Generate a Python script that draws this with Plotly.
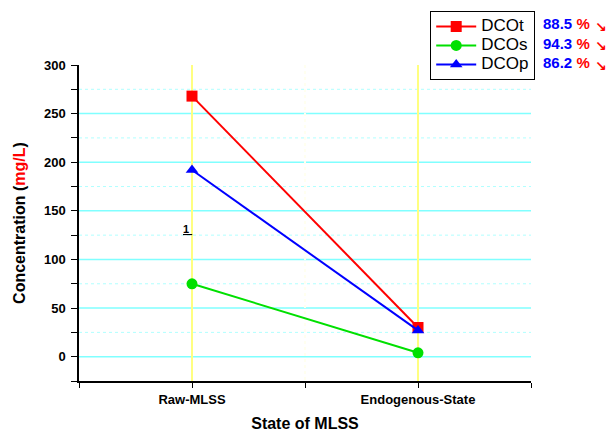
import plotly.graph_objects as go

categories = ["Raw-MLSS", "Endogenous-State"]
x_pos = [1, 2]
dcot = [268, 30]
dcos = [75, 4]
dcop = [192, 27]
removal = ["88.5", "94.3", "86.2"]
major_grid = [0, 50, 100, 150, 200, 250]
minor_grid = [25, 75, 125, 175, 225, 275]

colors = ["#ff0000", "#00e000", "#0000ff"]
names = ["DCOt", "DCOs", "DCOp"]
symbols = ["square", "circle", "triangle-up"]
series = [dcot, dcos, dcop]

fig = go.Figure()
for s, n, c, sym in zip(series, names, colors, symbols):
    fig.add_trace(go.Scatter(x=x_pos, y=s, name=f"<span style='font-size:17px'>{n}</span>",
                             mode="lines+markers",
                             line=dict(color=c, width=2),
                             marker=dict(symbol=sym, size=11, color=c)))

font = "Liberation Sans, Arial, sans-serif"

for g in major_grid:
    fig.add_hline(y=g, line=dict(color="#80ffff", width=1.5), layer="below")
for g in minor_grid:
    fig.add_hline(y=g, line=dict(color="#b0ffff", width=1, dash="dot"), layer="below")

fig.update_layout(
    width=606, height=432,
    margin=dict(l=79, r=75, t=65, b=51, autoexpand=False),
    paper_bgcolor="white", plot_bgcolor="white",
    font=dict(family=font, color="black"),
    showlegend=True,
    legend=dict(x=0.777, y=1.171, xanchor="left", yanchor="top",
                bordercolor="black", borderwidth=1, bgcolor="white",
                font=dict(size=12, family=font), tracegroupgap=0,
                itemwidth=40),
    xaxis=dict(range=[0.5, 2.5], tickvals=x_pos, ticktext=categories,
               automargin=False,
               showline=True, linecolor="black", linewidth=1.5,
               ticks="outside", ticklen=5, tickcolor="black",
               showgrid=True, gridcolor="#ffff80", gridwidth=1.5,
               tickfont=dict(size=13, family=font, color="black", weight="bold"),
               ticklabelstandoff=1,
               minor=dict(tick0=0.5, dtick=0.5, ticks="outside", ticklen=5,
                          tickcolor="black", showgrid=True, gridcolor="#fffff0",
                          griddash="dot"),
               title=dict(text="<b>State of MLSS</b>", font=dict(size=16), standoff=13),
               zeroline=False),
    yaxis=dict(range=[-25, 300], tick0=0, dtick=50,
               automargin=False,
               showline=True, linecolor="black", linewidth=1.5,
               ticks="outside", ticklen=6, tickcolor="black",
               showgrid=False, zeroline=False,
               tickfont=dict(size=13, family=font, color="black", weight="bold"),
               ticklabelstandoff=3,
               minor=dict(tick0=0, dtick=25, ticks="outside", ticklen=6,
                          tickcolor="black", showgrid=False),
               title=dict(text="<b>Concentration (<span style='color:red'>mg/L</span>)</b>",
                          font=dict(size=16), standoff=14)),
)

for i, r in enumerate(removal):
    fig.add_annotation(xref="paper", yref="paper", x=(541 - 79) / 452,
                       y=(381 - (24 + 19.5 * i)) / 316, xanchor="left", yanchor="middle",
                       showarrow=False,
                       text=f"<b><span style='color:#0000ff'>{r}</span> <span style='color:red'>%</span></b>",
                       font=dict(size=15, family=font))
    fig.add_annotation(xref="paper", yref="paper", x=(593 - 79) / 452,
                       y=(381 - (27 + 19.5 * i)) / 316, xanchor="left", yanchor="middle",
                       showarrow=False, text="<b>↘</b>",
                       font=dict(size=14, color="red", family="DejaVu Sans"))

fig.add_annotation(x=0.98, y=131, text="<b><u>1 </u></b>", showarrow=False,
                   font=dict(size=11, color="black", family=font))

fig.write_html("out.html")
